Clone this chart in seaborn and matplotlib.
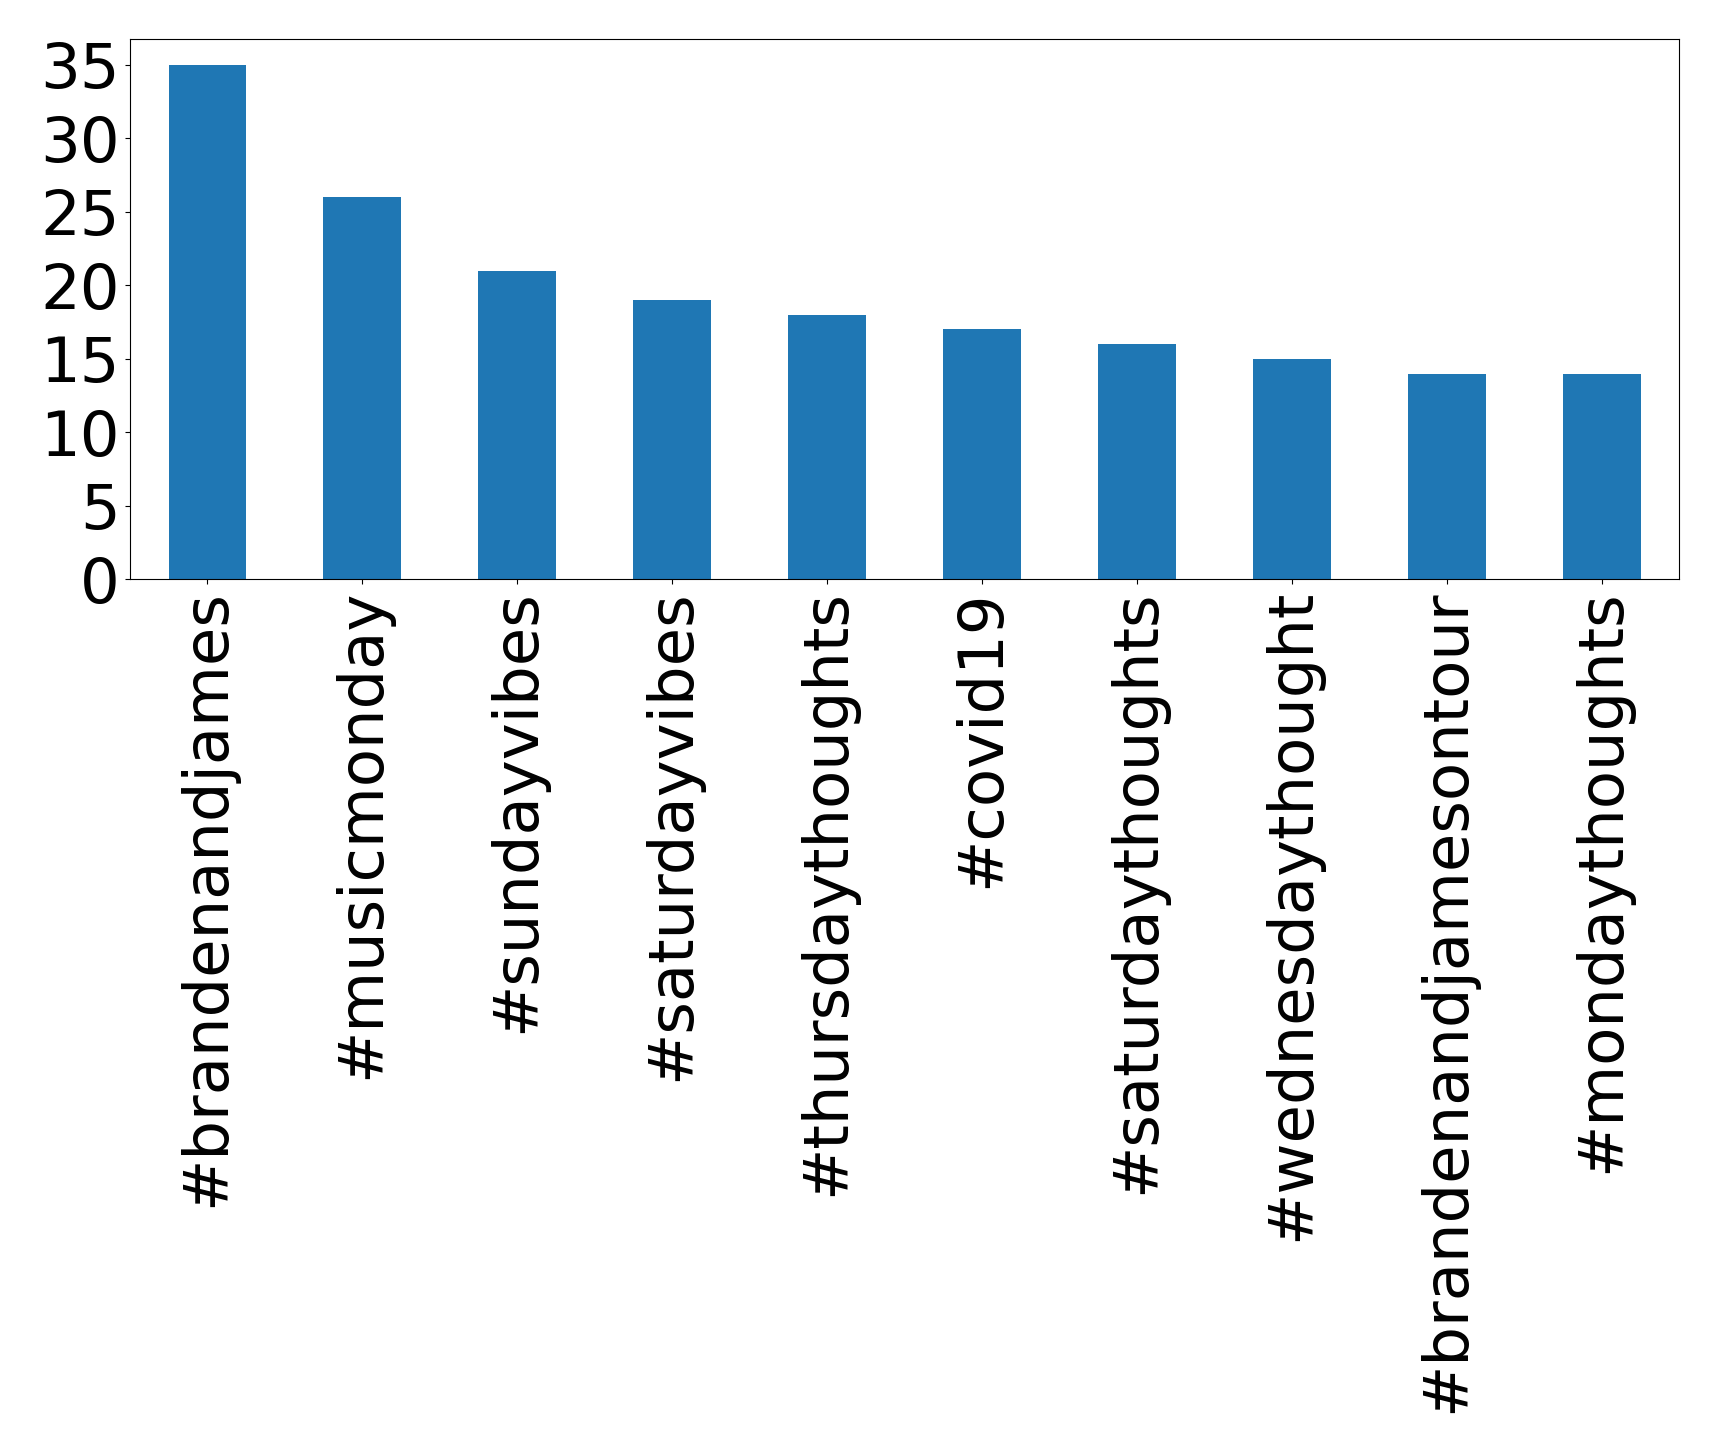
import matplotlib
matplotlib.use("Agg")
import matplotlib.pyplot as plt
import seaborn as sns
import pandas as pd

hashtags = ["#brandenandjames", "#musicmonday", "#sundayvibes", "#saturdayvibes",
            "#thursdaythoughts", "#covid19", "#saturdaythoughts", "#wednesdaythought",
            "#brandenandjamesontour", "#mondaythoughts"]
counts = [35, 26, 21, 19, 18, 17, 16, 15, 14, 14]

df = pd.DataFrame({"hashtag": hashtags, "count": counts})

fig = plt.figure(figsize=(17.19, 14.52), dpi=100)
ax = fig.add_axes([0.0755, 0.601, 0.9015, 0.372])
sns.barplot(data=df, x="hashtag", y="count", color="#1f77b4", saturation=1,
            width=0.5, ax=ax)
ax.set_xlim(-0.5, len(hashtags) - 0.5)
ax.set_xlabel("")
ax.set_ylabel("")
ax.set_yticks([0, 5, 10, 15, 20, 25, 30, 35])
ax.tick_params(axis="both", labelsize=45)
ax.tick_params(axis="x", labelrotation=90)
fig.savefig("out.png", dpi=100)
plt.close(fig)
